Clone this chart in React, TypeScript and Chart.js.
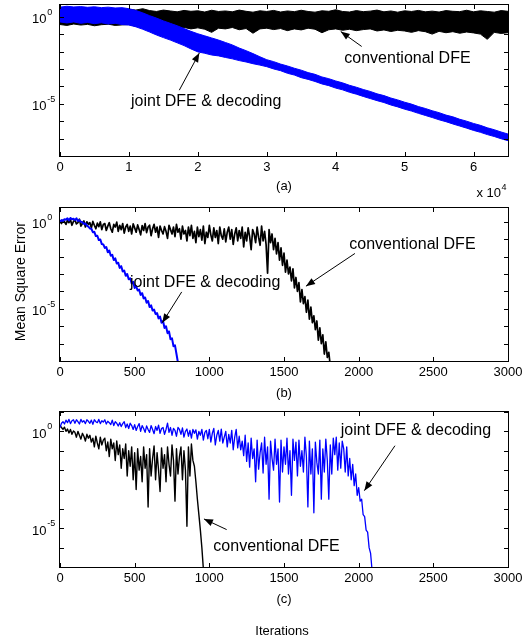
import React, { useEffect, useRef } from "react";
import { Chart, registerables } from "chart.js";

Chart.register(...registerables);

const FONT = '"Liberation Sans", Arial, Helvetica, sans-serif';
const BLUE = "#0000ff";
const BLACK = "#000000";

// ---------------- DATA (values are log10 of the mean square error) ----------------

// Panel (a): one sample every 1000 iterations, envelopes of the dense noisy traces
const aStep = 1000;
const aConvUpperExp = [
  0.45, 0.42, 0.46, 0.41, 0.44, 0.4, 0.45, 0.42, 0.39, 0.44,
  0.42, 0.38, 0.46, 0.35, 0.3, 0.38, 0.33, 0.28, 0.36, 0.31,
  0.34, 0.27, 0.37, 0.3, 0.33, 0.28, 0.38, 0.31, 0.26, 0.34,
  0.3, 0.36, 0.27, 0.33, 0.29, 0.37, 0.3, 0.26, 0.34, 0.31,
  0.4, 0.3, 0.27, 0.35, 0.29, 0.32, 0.38, 0.28, 0.33, 0.26,
  0.34, 0.3, 0.36, 0.28, 0.32, 0.27, 0.35, 0.31, 0.29, 0.37,
  0.28, 0.34, 0.3, 0.26, 0.35, 0.31,
];
const aConvLowerExp = [
  -0.45, -0.5, -0.42, -0.48, -0.44, -0.52, -0.46, -0.43, -0.5, -0.47,
  -0.45, -0.55, -0.62, -0.58, -0.7, -0.6, -0.66, -0.85, -0.62, -0.7,
  -0.64, -0.72, -0.9, -0.66, -0.7, -0.62, -0.75, -0.68, -0.95, -0.7,
  -0.66, -0.74, -0.68, -0.8, -0.7, -0.76, -0.66, -0.72, -0.92, -0.75,
  -0.7, -0.78, -0.72, -0.8, -0.74, -0.7, -0.82, -0.76, -0.85, -0.78,
  -0.82, -0.9, -0.8, -0.86, -1.0, -0.84, -0.92, -0.86, -0.95, -0.88,
  -0.93, -1.0, -1.3, -0.9, -0.96, -0.92,
];
const aJointUpperExp = [
  0.55, 0.6, 0.56, 0.58, 0.54, 0.57, 0.52, 0.55, 0.5, 0.52,
  0.46, 0.36, 0.22, 0.06, -0.08, -0.24, -0.38, -0.52, -0.68, -0.84,
  -0.98, -1.1, -1.22, -1.34, -1.48, -1.62, -1.8, -1.95, -2.12, -2.3,
  -2.47, -2.58, -2.72, -2.83, -2.96, -3.07, -3.21, -3.31, -3.46, -3.56,
  -3.69, -3.8, -3.94, -4.05, -4.18, -4.29, -4.43, -4.53, -4.67, -4.78,
  -4.91, -5.02, -5.16, -5.27, -5.4, -5.51, -5.65, -5.75, -5.89, -6.0,
  -6.13, -6.24, -6.38, -6.49, -6.62, -6.74,
];
const aJointLowerExp = [
  -0.3, -0.36, -0.3, -0.38, -0.33, -0.4, -0.35, -0.42, -0.38, -0.45,
  -0.48, -0.58, -0.72, -0.88, -1.05, -1.2, -1.34, -1.5, -1.66, -1.85,
  -2.02, -2.1, -2.2, -2.25, -2.34, -2.42, -2.52, -2.6, -2.7, -2.78,
  -2.87, -3.0, -3.1, -3.25, -3.35, -3.5, -3.6, -3.72, -3.86, -3.96,
  -4.1, -4.2, -4.34, -4.45, -4.58, -4.7, -4.82, -4.93, -5.07, -5.18,
  -5.31, -5.42, -5.55, -5.67, -5.79, -5.92, -6.03, -6.16, -6.28, -6.4,
  -6.53, -6.64, -6.77, -6.88, -7.01, -7.12,
];

// Panel (b): one sample every 10 iterations
const bStep = 10;
const bConvExp = [
  0.05, -0.1, 0.1, 0.0, -0.15, 0.08, -0.05, 0.12, -0.2, 0.02,
  0.1, -0.12, -0.05, 0.15, -0.25, -0.1, 0.05, -0.3, 0.0, -0.15,
  -0.05, -0.35, 0.02, -0.2, -0.4, -0.08, -0.28, 0.0, -0.45, -0.15,
  -0.1, -0.5, -0.25, -0.05, -0.4, -0.6, -0.15, -0.3, -0.02, -0.55,
  -0.2, -0.45, -0.1, -0.65, -0.3, -0.15, -0.55, -0.25, -0.7, -0.12,
  -0.35, -0.6, -0.18, -0.45, -0.75, -0.22, -0.5, -0.1, -0.62, -0.3,
  -0.2, -0.8, -0.4, -0.15, -0.6, -0.3, -0.9, -0.25, -0.5, -0.7,
  -0.28, -0.55, -0.95, -0.2, -0.45, -0.7, -0.3, -0.85, -0.15, -0.6,
  -0.4, -1.0, -0.25, -0.7, -0.5, -1.1, -0.3, -0.8, -0.2, -0.95,
  -0.55, -1.2, -0.3, -0.85, -0.45, -1.05, -0.25, -1.25, -0.6, -0.9,
  -0.2, -0.75, -1.1, -0.35, -0.9, -0.5, -1.25, -0.3, -0.8, -1.0,
  -0.4, -1.15, -0.6, -0.3, -1.0, -0.45, -1.3, -0.7, -0.35, -1.1,
  -0.5, -0.95, -0.3, -1.45, -0.6, -1.1, -0.35, -0.85, -1.6, -0.45,
  -0.7, -1.2, -0.3, -0.9, -1.35, -0.25, -1.1, -0.55, -1.3, -2.95,
  -0.45, -1.2, -0.7, -1.6, -0.95, -1.85, -1.2, -2.2, -1.5, -2.5,
  -1.8, -2.9, -2.2, -3.0, -2.6, -3.4, -2.7, -3.8, -3.2, -4.0,
  -3.5, -4.6, -3.9, -4.7, -4.3, -5.2, -4.5, -5.6, -4.9, -5.8,
  -5.4, -6.2, -5.7, -6.8, -6.1, -7.0, -6.5, -7.6, -6.9, -7.8,
  -7.5, -8.3,
];
const bJointExp = [
  0.0, 0.1, 0.05, 0.15, 0.12, 0.2, 0.08, 0.22, 0.14, 0.18,
  0.1, 0.2, 0.05, 0.1, 0.0, -0.02, -0.12, -0.1, -0.22, -0.28,
  -0.38, -0.4, -0.6, -0.58, -0.82, -0.8, -1.05, -1.02, -1.28, -1.3,
  -1.5, -1.45, -1.75, -1.65, -1.95, -1.9, -2.2, -2.1, -2.4, -2.35,
  -2.65, -2.55, -2.85, -2.8, -3.1, -3.0, -3.3, -3.25, -3.55, -3.45,
  -3.8, -3.7, -3.95, -3.9, -4.2, -4.1, -4.4, -4.35, -4.65, -4.55,
  -4.9, -4.8, -5.1, -5.05, -5.3, -5.25, -5.55, -5.45, -5.8, -5.7,
  -6.1, -6.0, -6.4, -6.3, -6.75, -6.7, -7.15, -7.1, -7.6, -8.1,
];

// Panel (c): one sample every 10 iterations
const cStep = 10;
const cConvExp = [
  0.3, 0.2, 0.1, 0.22, 0.0, 0.12, -0.08, 0.1, -0.15, 0.02,
  -0.05, -0.3, 0.0, -0.2, -0.4, -0.1, -0.25, -0.5, -0.15, -0.35,
  -0.2, -0.55, -0.35, -0.8, -0.25, -0.6, -0.9, -0.3, -0.7, -0.45,
  -0.35, -1.0, -0.55, -1.3, -0.4, -0.9, -0.6, -1.5, -0.5, -1.2,
  -0.7, -1.9, -0.9, -1.4, -0.65, -2.3, -1.0, -1.8, -0.8, -2.5,
  -1.1, -3.0, -0.9, -2.0, -1.3, -2.6, -0.8, -1.9, -1.2, -3.9,
  -0.9, -2.3, -1.4, -0.75, -2.5, -1.1, -2.0, -3.1, -0.85, -1.9,
  -1.2, -2.6, -0.8, -1.7, -2.3, -0.7, -1.5, -3.6, -0.9, -2.2,
  -1.3, -0.8, -2.5, -1.0, -2.0, -4.9, -0.8, -2.3, -0.65, -1.5,
  -1.8, -2.6, -3.5, -4.3, -5.1, -6.0, -7.1,
];
const cJointExp = [
  0.2, 0.42, 0.5, 0.38, 0.58, 0.45, 0.62, 0.4, 0.55, 0.6,
  0.42, 0.6, 0.5, 0.38, 0.62, 0.48, 0.55, 0.4, 0.6, 0.52,
  0.42, 0.58, 0.36, 0.6, 0.5, 0.45, 0.62, 0.4, 0.55, 0.48,
  0.6, 0.38, 0.52, 0.45, 0.35, 0.58, 0.3, 0.5, 0.42, 0.28,
  0.45, 0.25, 0.4, 0.5, 0.2, 0.38, 0.15, 0.42, 0.3, 0.1,
  0.35, 0.05, 0.25, 0.4, 0.0, 0.3, 0.15, -0.05, 0.28, 0.1,
  -0.05, 0.3, 0.1, -0.12, 0.25, 0.05, 0.32, -0.1, 0.15, 0.2,
  -0.15, 0.1, 0.43, -0.05, 0.2, -0.2, 0.15, 0.05, -0.25, 0.2,
  0.1, -0.15, 0.18, -0.3, 0.0, 0.12, -0.25, 0.05, -0.35, 0.1,
  -0.1, 0.08, -0.4, 0.0, -0.2, 0.1, -0.45, -0.05, 0.05, -0.38,
  0.1, -0.55, -0.1, 0.15, -0.7, -0.2, 0.05, -0.5, 0.12, -0.6,
  -0.3, 0.0, -0.8, -0.15, -0.6, 0.05, -0.95, -0.3, 0.1, -0.85,
  -0.25, -0.95, -0.5, -1.25, -0.2, -1.55, -0.6, -1.85, -0.35, -1.4,
  -0.9, -2.6, -0.45, -1.95, -1.1, -0.6, -2.15, -0.3, -1.7, -0.8,
  -3.5, -0.5, -1.4, -2.0, -0.4, -1.7, -0.9, -3.65, -0.45, -2.1,
  -0.8, -1.7, -0.35, -2.2, -1.0, -3.3, -0.4, -1.5, -0.55, -2.3,
  -0.45, -1.8, -1.0, -2.1, -0.3, -1.3, -3.9, -0.5, -2.2, -0.9,
  -4.2, -0.55, -1.6, -2.2, -0.45, -3.5, -0.9, -2.1, -0.4, -1.5,
  -3.5, -0.7, -2.2, -0.35, -1.2, -0.3, -2.0, -0.6, -1.9, -0.5,
  -0.9, -2.1, -0.8, -2.3, -1.4, -2.5, -1.7, -2.8, -2.2, -3.3,
  -2.9, -3.6, -3.5, -4.3, -4.4, -5.1, -5.2, -6.0, -6.3, -7.2,
];

// Tick values and labels
const aXTicks = [0, 10000, 20000, 30000, 40000, 50000, 60000];
const aXTickLabels = ["0", "1", "2", "3", "4", "5", "6"];
const bcXTicks = [0, 500, 1000, 1500, 2000, 2500, 3000];
const bcXTickLabels = ["0", "500", "1000", "1500", "2000", "2500", "3000"];
const yLabelExps = [0, -5];

// ---------------- helpers ----------------

function pts(step: number, exps: number[]) {
  return exps.map((e, i) => ({ x: i * step, y: Math.pow(10, e) }));
}

type Note = {
  text: string;
  x: number;
  yExp: number;
  from: [number, number];
  to: [number, number];
};

type Extra = { text: string; x: number; y: number; size: number; rotate?: boolean };

type Panel = {
  top: number;
  height: number;
  padTop: number;
  padBottom: number;
  xMax: number;
  yMin: number;
  yMax: number;
  yTickExps: number[];
  xTicks: number[];
  xTickLabels: string[];
  caption: string;
  captionGap: number;
  xExponent?: string;
  datasets: any[];
  notes: Note[];
  extras: Extra[];
};

function lineDs(data: any[], color: string, width = 1) {
  return {
    data,
    borderColor: color,
    backgroundColor: color,
    borderWidth: width,
    pointRadius: 0,
    fill: false,
    tension: 0,
    borderJoinStyle: "round",
  };
}

function arrow(ctx: CanvasRenderingContext2D, x1: number, y1: number, x2: number, y2: number) {
  ctx.beginPath();
  ctx.moveTo(x1, y1);
  ctx.lineTo(x2, y2);
  ctx.stroke();
  const ang = Math.atan2(y2 - y1, x2 - x1);
  const len = 9;
  const w = 3.5;
  const bx = x2 - len * Math.cos(ang);
  const by = y2 - len * Math.sin(ang);
  ctx.beginPath();
  ctx.moveTo(x2, y2);
  ctx.lineTo(bx + w * Math.sin(ang), by - w * Math.cos(ang));
  ctx.lineTo(bx - w * Math.sin(ang), by + w * Math.cos(ang));
  ctx.closePath();
  ctx.fill();
}

function axesPlugin(spec: Panel) {
  return {
    id: "matlabAxes",
    afterDraw(chart: any) {
      const ctx: CanvasRenderingContext2D = chart.ctx;
      const a = chart.chartArea;
      const xs = chart.scales.x;
      const ys = chart.scales.y;
      ctx.save();
      ctx.strokeStyle = BLACK;
      ctx.fillStyle = BLACK;
      ctx.lineWidth = 1;

      // frame
      ctx.strokeRect(a.left - 0.5, a.top - 0.5, a.right - a.left + 1, a.bottom - a.top + 1);

      // x ticks (inward, top and bottom) and labels
      ctx.font = `13px ${FONT}`;
      ctx.textAlign = "center";
      ctx.textBaseline = "alphabetic";
      spec.xTicks.forEach((v, i) => {
        const px = Math.round(xs.getPixelForValue(v)) + 0.5;
        ctx.beginPath();
        ctx.moveTo(px, a.bottom);
        ctx.lineTo(px, a.bottom - 4);
        ctx.moveTo(px, a.top);
        ctx.lineTo(px, a.top + 4);
        ctx.stroke();
        ctx.fillText(spec.xTickLabels[i], xs.getPixelForValue(v), a.bottom + 15);
      });

      // y ticks at every decade (inward, left and right)
      spec.yTickExps.forEach((e) => {
        const py = Math.round(ys.getPixelForValue(Math.pow(10, e))) + 0.5;
        ctx.beginPath();
        ctx.moveTo(a.left, py);
        ctx.lineTo(a.left + 4, py);
        ctx.moveTo(a.right, py);
        ctx.lineTo(a.right - 4, py);
        ctx.stroke();
      });

      // y labels 10^0, 10^-5
      yLabelExps.forEach((e) => {
        const py = ys.getPixelForValue(Math.pow(10, e));
        ctx.font = `13px ${FONT}`;
        ctx.textAlign = "right";
        ctx.fillText("10", a.left - 13.5, py + 6.5);
        ctx.font = `9px ${FONT}`;
        ctx.textAlign = "left";
        ctx.fillText(String(e), a.left - 12.8, py - 2);
      });

      // caption
      ctx.font = `13px ${FONT}`;
      ctx.textAlign = "center";
      ctx.fillText(spec.caption, (a.left + a.right) / 2, a.bottom + spec.captionGap);

      // x exponent (x 10^4)
      if (spec.xExponent) {
        ctx.textAlign = "left";
        const base = "x 10";
        const lx = a.right - 31.5;
        ctx.fillText(base, lx, a.bottom + 40.5);
        const w = ctx.measureText(base).width;
        ctx.font = `9px ${FONT}`;
        ctx.fillText(spec.xExponent, lx + w + 0.5, a.bottom + 34);
      }

      // annotations with arrows
      ctx.font = `16px ${FONT}`;
      ctx.textAlign = "left";
      ctx.textBaseline = "alphabetic";
      spec.notes.forEach((n) => {
        ctx.fillText(n.text, xs.getPixelForValue(n.x), ys.getPixelForValue(Math.pow(10, n.yExp)));
        arrow(
          ctx,
          xs.getPixelForValue(n.from[0]),
          ys.getPixelForValue(Math.pow(10, n.from[1])),
          xs.getPixelForValue(n.to[0]),
          ys.getPixelForValue(Math.pow(10, n.to[1]))
        );
      });

      // figure-level labels
      spec.extras.forEach((t) => {
        ctx.font = `${t.size}px ${FONT}`;
        ctx.textAlign = "center";
        if (t.rotate) {
          ctx.save();
          ctx.translate(t.x, t.y);
          ctx.rotate(-Math.PI / 2);
          ctx.textBaseline = "middle";
          ctx.fillText(t.text, 0, 0);
          ctx.restore();
        } else {
          ctx.textBaseline = "alphabetic";
          ctx.fillText(t.text, t.x, t.y);
        }
      });

      ctx.restore();
    },
  };
}

// ---------------- panels ----------------

const panelA: Panel = {
  top: 0,
  height: 205,
  padTop: 5,
  padBottom: 49,
  xMax: 65000,
  yMin: 1e-8,
  yMax: 4.7,
  yTickExps: [-8, -7, -6, -5, -4, -3, -2, -1, 0],
  xTicks: aXTicks,
  xTickLabels: aXTickLabels,
  caption: "(a)",
  captionGap: 34,
  xExponent: "4",
  datasets: [
    lineDs(pts(aStep, aJointLowerExp), BLUE),
    { ...lineDs(pts(aStep, aJointUpperExp), BLUE), fill: "-1" },
    lineDs(pts(aStep, aConvLowerExp), BLACK),
    { ...lineDs(pts(aStep, aConvUpperExp), BLACK), fill: "-1" },
  ],
  notes: [
    { text: "conventional DFE", x: 41250, yExp: -2.66, from: [43770, -1.71], to: [40730, -0.85] },
    { text: "joint DFE & decoding", x: 10300, yExp: -5.12, from: [17310, -4.22], to: [20210, -2.09] },
  ],
  extras: [],
};

const panelB: Panel = {
  top: 205,
  height: 205,
  padTop: 3,
  padBottom: 49,
  xMax: 3000,
  yMin: 1e-8,
  yMax: 6.2,
  yTickExps: [-8, -7, -6, -5, -4, -3, -2, -1, 0],
  xTicks: bcXTicks,
  xTickLabels: bcXTickLabels,
  caption: "(b)",
  captionGap: 36,
  datasets: [lineDs(pts(bStep, bJointExp), BLUE, 2), lineDs(pts(bStep, bConvExp), BLACK, 1.7)],
  notes: [
    { text: "conventional DFE", x: 1937, yExp: -1.54, from: [1975, -1.82], to: [1647, -3.7] },
    { text: "joint DFE & decoding", x: 469, yExp: -3.72, from: [815, -4.03], to: [685, -5.8] },
  ],
  extras: [{ text: "Mean Square Error", x: 21, y: 76.7, size: 14, rotate: true }],
};

const panelC: Panel = {
  top: 410,
  height: 230,
  padTop: 2,
  padBottom: 73,
  xMax: 3000,
  yMin: 1e-7,
  yMax: 10,
  yTickExps: [-7, -6, -5, -4, -3, -2, -1, 0, 1],
  xTicks: bcXTicks,
  xTickLabels: bcXTickLabels,
  caption: "(c)",
  captionGap: 36,
  datasets: [lineDs(pts(cStep, cJointExp), BLUE, 1.3), lineDs(pts(cStep, cConvExp), BLACK, 1.4)],
  notes: [
    { text: "joint DFE & decoding", x: 1880, yExp: -0.21, from: [2243, -0.74], to: [2038, -3.06] },
    { text: "conventional DFE", x: 1027, yExp: -6.15, from: [1116, -5.07], to: [964, -4.52] },
  ],
  extras: [{ text: "Iterations", x: 282, y: 225, size: 13 }],
};

function ChartPanel({ spec }: { spec: Panel }) {
  const ref = useRef<HTMLCanvasElement | null>(null);
  useEffect(() => {
    const canvas = ref.current;
    if (!canvas) return;
    const chart = new Chart(canvas, {
      type: "line",
      data: { datasets: spec.datasets },
      options: {
        responsive: false,
        maintainAspectRatio: false,
        animation: false,
        devicePixelRatio: 1,
        events: [],
        layout: { padding: { left: 60, right: 18, top: spec.padTop, bottom: spec.padBottom } },
        plugins: { legend: { display: false }, tooltip: { enabled: false }, title: { display: false } },
        elements: { point: { radius: 0 }, line: { tension: 0 } },
        scales: {
          x: { type: "linear", min: 0, max: spec.xMax, display: false },
          y: { type: "logarithmic", min: spec.yMin, max: spec.yMax, display: false },
        },
      } as any,
      plugins: [axesPlugin(spec)],
    });
    return () => chart.destroy();
  }, [spec]);
  return (
    <canvas
      ref={ref}
      width={526}
      height={spec.height}
      style={{ position: "absolute", left: 0, top: spec.top, width: 526, height: spec.height, display: "block" }}
    />
  );
}

export default function App() {
  return (
    <div style={{ position: "absolute", left: 0, top: 0, width: 526, height: 640, background: "#ffffff" }}>
      <ChartPanel spec={panelA} />
      <ChartPanel spec={panelB} />
      <ChartPanel spec={panelC} />
    </div>
  );
}
